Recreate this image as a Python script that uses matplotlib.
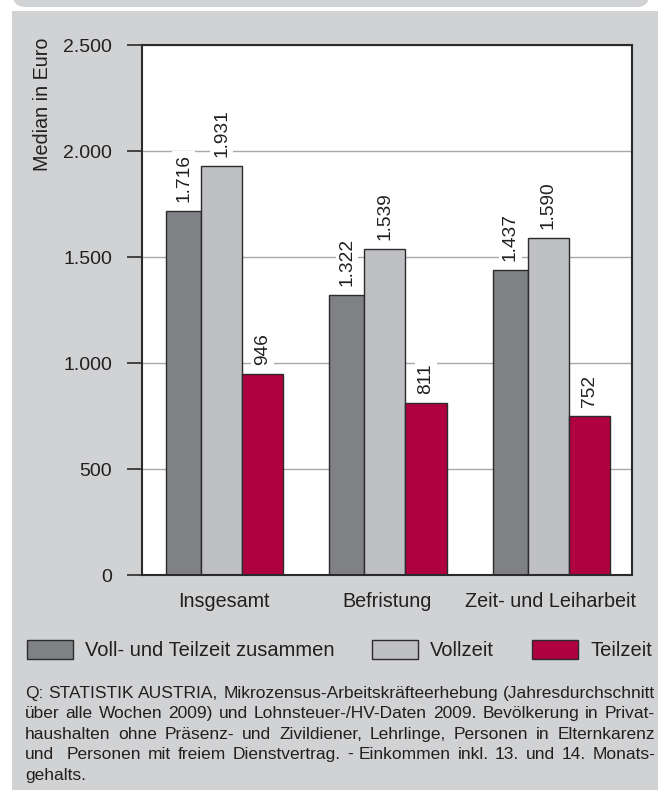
import matplotlib
matplotlib.use("Agg")
import matplotlib.pyplot as plt
from matplotlib import font_manager
from matplotlib.patches import Rectangle, FancyBboxPatch
from matplotlib.ticker import FuncFormatter

# data
categories = ["Insgesamt", "Befristung", "Zeit- und Leiharbeit"]
series_names = ["Voll- und Teilzeit zusammen", "Vollzeit", "Teilzeit"]
gesamt = [1716, 1322, 1437]
vollzeit = [1931, 1539, 1590]
teilzeit = [946, 811, 752]
y_ticks = [0, 500, 1000, 1500, 2000, 2500]
y_label = "Median in Euro"
footnote_lines = [
    "Q: STATISTIK AUSTRIA, Mikrozensus-Arbeitskräfteerhebung (Jahresdurchschnitt",
    "über alle Wochen 2009) und Lohnsteuer-/HV-Daten 2009. Bevölkerung in Privat-",
    "haushalten ohne Präsenz- und Zivildiener, Lehrlinge, Personen in Elternkarenz",
    "und  Personen mit freiem Dienstvertrag. - Einkommen inkl. 13. und 14. Monats-",
    "gehalts.",
]

BG = "#d1d2d4"
colors = ["#808184", "#bfc0c3", "#b10040"]
EDGE = "#2b2b2b"

W, H = 664, 790
names = {f.name for f in font_manager.fontManager.ttflist}
FONT = "Liberation Sans" if "Liberation Sans" in names else "DejaVu Sans"
NOTE_FONT = "Liberation Sans Narrow" if "Liberation Sans Narrow" in names else FONT
plt.rcParams["font.family"] = [FONT, "DejaVu Sans"]
plt.rcParams["text.color"] = "#231f20"


def fx(px):
    return px / W


def fy(py):
    return 1 - py / H


fig = plt.figure(figsize=(W / 100, H / 100), dpi=100, facecolor="white")

# grey panel and top strip
fig.patches.append(Rectangle((fx(12), 0), fx(658) - fx(12), fy(11), transform=fig.transFigure,
                             facecolor=BG, edgecolor="none", zorder=-10))
fig.patches.append(FancyBboxPatch((fx(12), fy(7)), fx(650) - fx(12), fy(-20) - fy(7),
                                  boxstyle="round,pad=0,rounding_size=0.02",
                                  transform=fig.transFigure, facecolor=BG, edgecolor="none",
                                  zorder=-10, clip_on=False))

ax = fig.add_axes([fx(141.7), fy(575), fx(632) - fx(141.7), fy(45) - fy(575)])
ax.set_facecolor("white")

x = range(len(categories))
offsets = [-0.351, -0.137, 0.114]
widths = [0.214, 0.251, 0.251]
for vals, off, w, c, name in zip([gesamt, vollzeit, teilzeit], offsets, widths, colors, series_names):
    pos = [i + off for i in x]
    bars = ax.bar(pos, vals, width=w, align="edge", color=c, edgecolor=EDGE, linewidth=1.0,
                  label=name, zorder=2)
    for b, v in zip(bars, vals):
        ax.annotate(f"{v:,}".replace(",", "."), (b.get_x() + b.get_width() / 2, v),
                    xytext=(0, 6.5), textcoords="offset points", rotation=90,
                    ha="center", va="bottom", fontsize=13.8, zorder=4,
                    bbox=dict(boxstyle="square,pad=0.15", facecolor="white", edgecolor="none"))

ax.set_xlim(-0.5, len(categories) - 0.5)
ax.set_ylim(0, 2500)
ax.set_yticks(y_ticks)
ax.yaxis.set_major_formatter(FuncFormatter(lambda v, p: f"{int(v):,}".replace(",", ".")))
ax.set_xticks(list(x))
ax.set_xticklabels(categories)
ax.tick_params(axis="y", length=10.8, width=1.2, color=EDGE, pad=10.5, labelsize=14,
               labelcolor="#231f20")
ax.tick_params(axis="x", length=0, pad=12, labelsize=14.2, labelcolor="#231f20")
ax.grid(axis="y", color="#a7a8aa", linewidth=1.0)
ax.set_axisbelow(True)
for s in ax.spines.values():
    s.set_color(EDGE)
    s.set_linewidth(1.5)

fig.text(fx(42.5), fy(104), y_label, rotation=90, ha="center", va="center", fontsize=14.2)

ax.legend(loc="center left", bbox_to_anchor=(fx(27), fy(650)), bbox_transform=fig.transFigure,
          ncol=3, frameon=False, fontsize=14.5, handlelength=2.28, handleheight=1.1,
          handletextpad=0.6, columnspacing=1.88, borderpad=0, borderaxespad=0)

# justified footnote
renderer = fig.canvas.get_renderer()
left, right = 25, 655


def width_px(s, size):
    t = fig.text(0, 0, s, fontsize=size, family=NOTE_FONT)
    w = t.get_window_extent(renderer).width
    t.remove()
    return w


note_size = 12
widest = max(width_px(l, note_size) for l in footnote_lines[:-1])
note_size *= (right - left) / widest

baseline = 698
for k, line in enumerate(footnote_lines):
    yb = baseline + k * 20.4
    if k == len(footnote_lines) - 1:
        fig.text(fx(left), fy(yb), line, fontsize=note_size, family=NOTE_FONT, va="baseline")
        continue
    words = line.split(" ")
    ws = [width_px(w, note_size) if w else 0 for w in words]
    gap = (right - left - sum(ws)) / (len(words) - 1)
    xp = left
    for w, wl in zip(words, ws):
        if w:
            fig.text(fx(xp), fy(yb), w, fontsize=note_size, family=NOTE_FONT, va="baseline")
        xp += wl + gap

fig.savefig("out.png", dpi=100, facecolor="white")
